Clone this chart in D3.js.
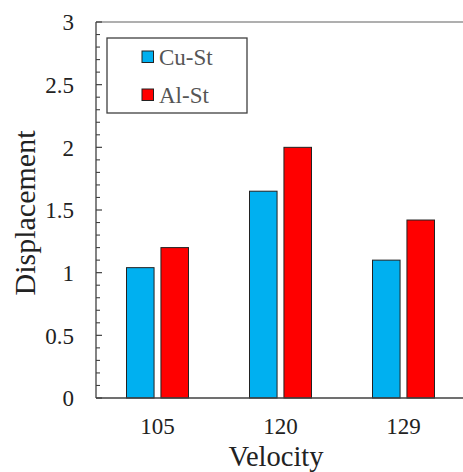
<!DOCTYPE html>
<html><head><meta charset="utf-8">
<script src="https://cdn.jsdelivr.net/npm/d3@7"></script>
<style>
html,body{margin:0;padding:0;background:#fff;}
svg{display:block;}
svg text{font-family:"Liberation Serif","Times New Roman",serif;}
</style>
</head><body>
<svg id="chart" width="463" height="472" font-family="Liberation Serif"></svg>
<script>
const categories = ["105", "120", "129"];
const seriesNames = ["Cu-St", "Al-St"];
const cuSt = [1.04, 1.65, 1.10];
const alSt = [1.20, 2.00, 1.42];
const yMajorTicks = [0, 0.5, 1, 1.5, 2, 2.5, 3];
const yTickLabels = ["0", "0.5", "1", "1.5", "2", "2.5", "3"];
const colors = ["#00B0F0", "#FF0000"];

(function () {
const svg = d3.select("#chart");
const pLeft = 96, pRight = 465, pTop = 22, pBottom = 398;
const axisColor = "#404040";
const FONT = "Liberation Serif, Times New Roman, serif";

const x = d3.scaleBand().domain(categories).range([pLeft, pRight]);
const xInner = d3.scaleBand().domain(seriesNames).range([-31, 31]).paddingInner(0.2);
const y = d3.scaleLinear().domain([0, 3]).range([pBottom, pTop]);

const seriesValues = [cuSt, alSt];
const rows = [];
categories.forEach((c, i) => seriesNames.forEach((s, j) => rows.push({c, s, v: seriesValues[j][i], color: colors[j]})));

// bars
svg.append("g").selectAll("rect").data(rows).join("rect")
  .attr("x", d => x(d.c) + x.bandwidth() / 2 + xInner(d.s))
  .attr("y", d => y(d.v))
  .attr("width", xInner.bandwidth())
  .attr("height", d => y(0) - y(d.v))
  .attr("fill", d => d.color)
  .attr("stroke", "#222")
  .attr("stroke-width", 1);

// top border
svg.append("line").attr("x1", pLeft).attr("x2", 463).attr("y1", pTop).attr("y2", pTop)
  .attr("stroke", "#606060").attr("stroke-width", 1.2);

// y axis (inward ticks)
const minorTicks = d3.range(0, 31).map(i => i / 10).filter(v => !yMajorTicks.some(m => Math.abs(m - v) < 1e-9));
const yAxis = svg.append("g").attr("transform", `translate(${pLeft},0)`);
yAxis.append("line").attr("x1", 0).attr("x2", 0).attr("y1", pTop).attr("y2", pBottom)
  .attr("stroke", axisColor).attr("stroke-width", 1.3);
yAxis.selectAll(".minor").data(minorTicks).join("line").attr("class", "minor")
  .attr("x1", 0).attr("x2", 4).attr("y1", d => y(d)).attr("y2", d => y(d))
  .attr("stroke", axisColor).attr("stroke-width", 1.1);
yAxis.selectAll(".major").data(yMajorTicks).join("line").attr("class", "major")
  .attr("x1", 0).attr("x2", 6).attr("y1", d => y(d)).attr("y2", d => y(d))
  .attr("stroke", axisColor).attr("stroke-width", 1.2);
yAxis.selectAll("text").data(yMajorTicks).join("text")
  .attr("x", -22).attr("y", d => y(d)).attr("dy", "0.36em")
  .attr("text-anchor", "end").attr("font-family", FONT).attr("font-size", 23).attr("fill", "#222")
  .text((d, i) => yTickLabels[i]);

// x axis
const xAxis = svg.append("g");
xAxis.append("line").attr("x1", pLeft).attr("x2", 463).attr("y1", pBottom).attr("y2", pBottom)
  .attr("stroke", axisColor).attr("stroke-width", 1.3);
xAxis.selectAll("text").data(categories).join("text")
  .attr("x", d => x(d) + x.bandwidth() / 2).attr("y", 434)
  .attr("text-anchor", "middle").attr("font-family", FONT).attr("font-size", 23).attr("fill", "#222")
  .text(d => d);

// axis titles
svg.append("text").attr("x", 276).attr("y", 466).attr("text-anchor", "middle")
  .attr("font-family", FONT).attr("font-size", 28.5).attr("fill", "#222").text("Velocity");
svg.append("text").attr("transform", `translate(35,${(pTop + pBottom) / 2 + 3}) rotate(-90)`)
  .attr("text-anchor", "middle").attr("font-family", FONT).attr("font-size", 30).attr("fill", "#222").text("Displacement");

// legend
const lg = svg.append("g");
lg.append("rect").attr("x", 107).attr("y", 38).attr("width", 140).attr("height", 75)
  .attr("fill", "#fff").attr("stroke", axisColor).attr("stroke-width", 1.3);
seriesNames.forEach((s, i) => {
  const cy = 57 + i * 38;
  lg.append("rect").attr("x", 142).attr("y", cy - 6).attr("width", 11.5).attr("height", 11.5)
    .attr("fill", colors[i]).attr("stroke", "#222").attr("stroke-width", 1);
  lg.append("text").attr("x", 159).attr("y", cy + 8).attr("font-family", FONT)
    .attr("font-size", 23).attr("fill", "#555").text(s);
});
})();
</script>
</body></html>
